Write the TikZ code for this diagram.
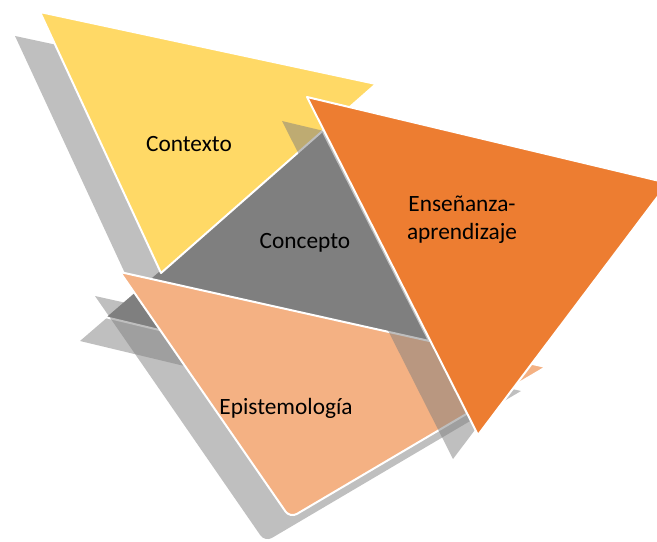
\documentclass[tikz,border=0pt]{standalone}
\usepackage{fontspec}
\setmainfont{Carlito}
\usepackage{xcolor}
\definecolor{ctxyellow}{HTML}{FFD966}
\definecolor{ensorange}{HTML}{ED7D31}
\definecolor{epipeach}{HTML}{F4B183}
\definecolor{cptgray}{HTML}{7F7F7F}

\begin{document}
\begin{tikzpicture}[x=0.75pt,y=-0.75pt,
  tri/.style={draw=white,line width=1.5pt,line join=round},
  shade/.style={fill=cptgray,fill opacity=0.5,shift={(-25,24)}},
  lbl/.style={inner sep=0pt,align=center,font=\fontsize{17.5}{21}\selectfont},
]
\useasboundingbox (0,0) rectangle (657,542);
\clip (0,0) rectangle (657,542);
% triangle outlines
\def\cptpath{(105,317) -- (322,130) -- (460,402) -- cycle}
\def\ctxpath{(40,12) -- (376,84) -- (161,273) -- cycle}
\def\epipath{(120,272) -- (546,367) [rounded corners=6] -- (290,518) [sharp corners] -- cycle}
\def\enspath{(307,97) -- (668,183) -- (478,435) -- cycle}
% center
\fill[shade] \cptpath;
\draw[tri,fill=cptgray] \cptpath;
% top left
\fill[shade] \ctxpath;
\draw[tri,fill=ctxyellow] \ctxpath;
% bottom
\fill[shade] \epipath;
\draw[tri,fill=epipeach] \epipath;
% right
\fill[shade] \enspath;
\draw[tri,fill=ensorange] \enspath;
% labels
\node[lbl] (ctx) at (189,144) {Contexto};
\node[lbl] (cpt) at (305,243) {Concepto};
\node[lbl] (ens) at (462,220) {Enseñanza-\\aprendizaje};
\node[lbl] (epi) at (286,408) {Epistemología};
\end{tikzpicture}
\end{document}
